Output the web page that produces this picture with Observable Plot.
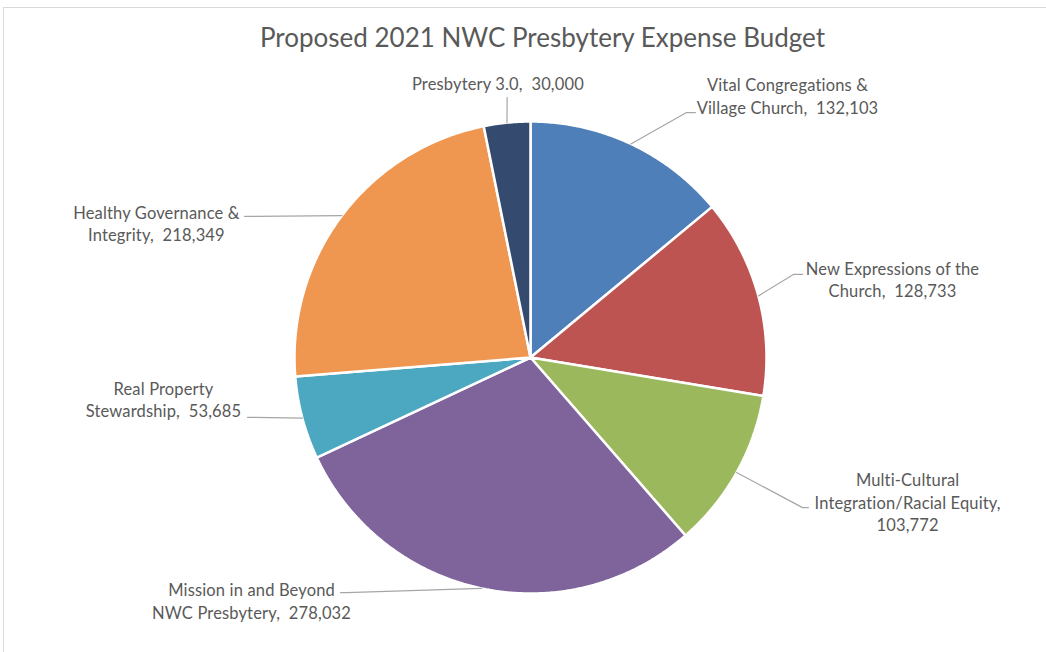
<!DOCTYPE html>
<html>
<head>
<meta charset="utf-8">
<script src="https://cdn.jsdelivr.net/npm/d3@7"></script>
<script src="https://cdn.jsdelivr.net/npm/@observablehq/plot@0.6"></script>
<style>
  html, body { margin: 0; padding: 0; background: #fff; }
  #frame { position: relative; width: 1046px; height: 652px; overflow: hidden; }
  #border { position: absolute; left: 3px; top: 7px; right: -2px; bottom: -2px;
            border-top: 1.5px solid #d9d9d9; border-left: 1.5px solid #d9d9d9; }
  #title { position: absolute; left: 0; top: 0; width: 1085px; height: 60px; line-height: 74px;
           text-align: center; font-family: Lato, "Open Sans", sans-serif; font-size: 26px; color: #595959; }
  #chart { position: absolute; left: 0; top: 60px; }
  #chart svg text { letter-spacing: 0.15px; }
</style>
</head>
<body>
<div id="frame">
  <div id="border"></div>
  <div id="title">Proposed 2021 NWC Presbytery Expense Budget</div>
  <div id="chart"></div>
</div>
<script>
// ---- data ----
const categories = [
  "Vital Congregations & Village Church",
  "New Expressions of the Church",
  "Multi-Cultural Integration/Racial Equity",
  "Mission in and Beyond NWC Presbytery",
  "Real Property Stewardship",
  "Healthy Governance & Integrity",
  "Presbytery 3.0"
];
const values = [132103, 128733, 103772, 278032, 53685, 218349, 30000];
const colors = ["#4f7fb8", "#bd5452", "#9bb85d", "#7f649b", "#4ca7c1", "#ef9751", "#344a6f"];

// ---- label layout (wrapped text + placement in pie-radius units, y up) ----
const labelWrap = [
  "Vital Congregations &\nVillage Church",
  "New Expressions of the\nChurch",
  "Multi-Cultural\nIntegration/Racial Equity",
  "Mission in and Beyond\nNWC Presbytery",
  "Real Property\nStewardship",
  "Healthy Governance &\nIntegrity",
  "Presbytery 3.0"
];
const labelSep = [",\u00a0 ", ",\u00a0 ", ",\n", ",\u00a0 ", ",\u00a0 ", ",\u00a0 ", ",\u00a0 "];
const labelText = [[1.089, 1.106], [1.534, 0.328], [1.598, -0.617], [-1.182, -1.034], [-1.555, -0.182], [-1.585, 0.564], [-0.138, 1.157]];
const leaderElbow = [[0.661, 1.038], [1.114, 0.352], [1.153, -0.636], [-0.780, -0.996], [-1.174, -0.254], [-1.186, 0.598], [-0.099, 1.102]];
const leaderTail = [[0.699, 1.038], [1.153, 0.352], [1.178, -0.636], [-0.805, -0.996], [-1.199, -0.254], [-1.212, 0.598], [-0.099, 1.102]];

// ---- geometry ----
const W = 1046, H = 592, CX = 530, CY = 297, R = 236;
const fmt = d3.format(",");
const arcs = d3.pie().sort(null).value(d => d)(values);

const slicePts = [];
arcs.forEach((a, i) => {
  const name = categories[i];
  slicePts.push({name, x: 0, y: 0});
  const n = Math.max(2, Math.ceil((a.endAngle - a.startAngle) / (Math.PI / 360)));
  for (let k = 0; k <= n; k++) {
    const t = a.startAngle + (a.endAngle - a.startAngle) * k / n;
    slicePts.push({name, x: Math.sin(t), y: Math.cos(t)});
  }
  slicePts.push({name, x: 0, y: 0});
});

const leaderPts = [];
arcs.forEach((a, i) => {
  const name = categories[i];
  const m = (a.startAngle + a.endAngle) / 2;
  leaderPts.push({name, x: Math.sin(m), y: Math.cos(m)});
  leaderPts.push({name, x: leaderElbow[i][0], y: leaderElbow[i][1]});
  leaderPts.push({name, x: leaderTail[i][0], y: leaderTail[i][1]});
});

const labels = categories.map((c, i) => ({
  name: c,
  x: labelText[i][0],
  y: labelText[i][1],
  text: labelWrap[i] + labelSep[i] + fmt(values[i])
}));

const chart = Plot.plot({
  width: W,
  height: H,
  margin: 0,
  x: {domain: [-CX / R, (W - CX) / R], range: [0, W], axis: null},
  y: {domain: [-(H - CY) / R, CY / R], range: [H, 0], axis: null},
  color: {domain: categories, range: colors},
  style: {background: "transparent"},
  marks: [
    Plot.line(slicePts, {x: "x", y: "y", z: "name", fill: "name", stroke: "white", strokeWidth: 2.5, strokeLinejoin: "miter", curve: "linear"}),
    Plot.line(leaderPts, {x: "x", y: "y", z: "name", stroke: "#a6a6a6", strokeWidth: 1.2, curve: "linear"}),
    Plot.text(labels, {x: "x", y: "y", text: "text", textAnchor: "middle", lineAnchor: "middle", lineHeight: 1.37, dy: -1.5,
      fontSize: 16.5, fill: "#595959", fontFamily: "Lato, 'Open Sans', sans-serif"})
  ]
});
document.getElementById("chart").appendChild(chart);
</script>
</body>
</html>
